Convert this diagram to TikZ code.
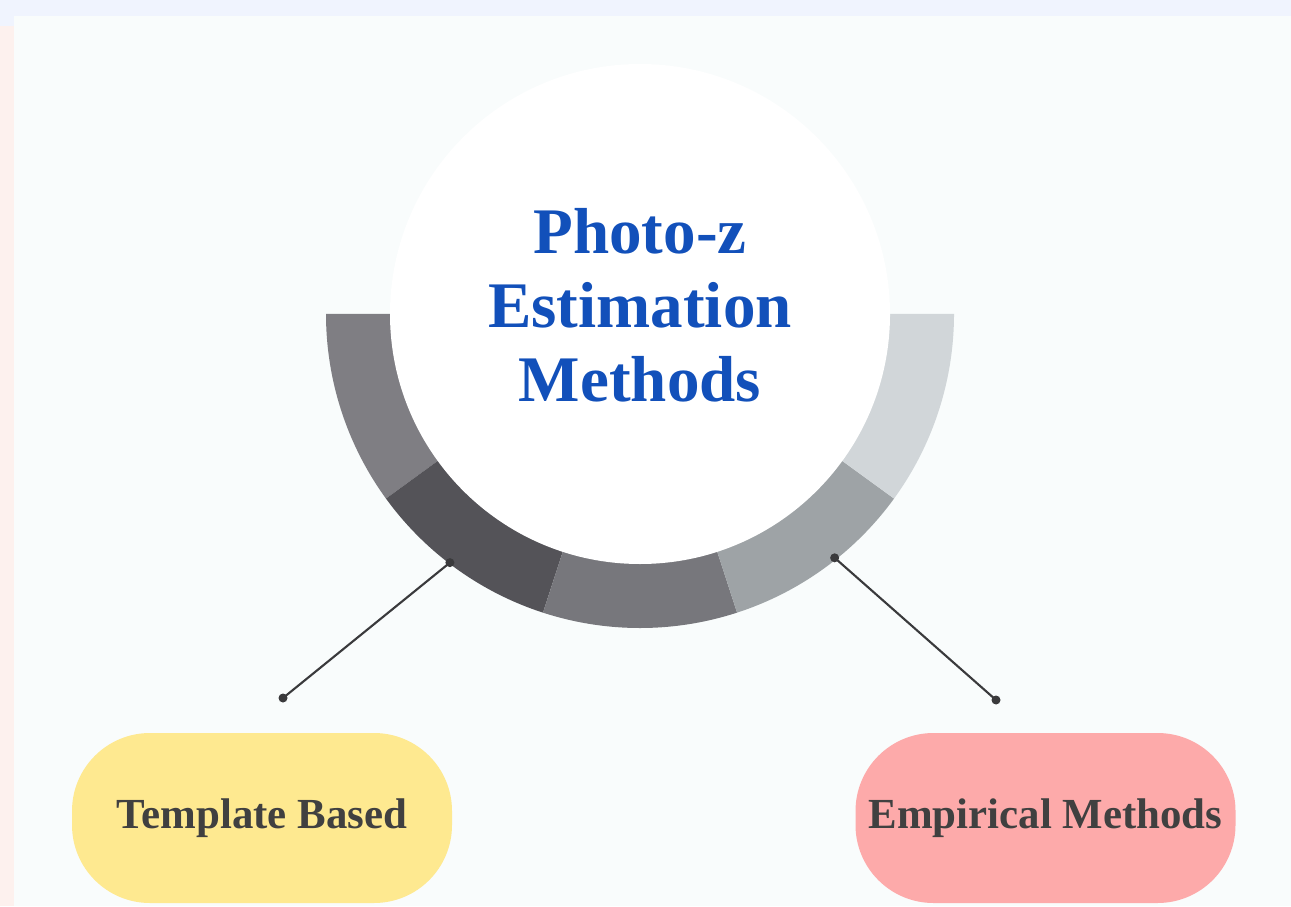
\documentclass[tikz,border=0pt]{standalone}
\usepackage{fontspec}
\setmainfont{Liberation Serif}
\usepackage{xcolor}
\usepackage{tikz}
\usetikzlibrary{calc, positioning}
\definecolor{clrTitle}{HTML}{1250BA}
\definecolor{clrText}{HTML}{404040}
\definecolor{clrLine}{HTML}{3A3A3C}
\definecolor{clrSegA}{HTML}{7F7E83}
\definecolor{clrSegB}{HTML}{545358}
\definecolor{clrSegC}{HTML}{77777C}
\definecolor{clrSegD}{HTML}{9EA3A6}
\definecolor{clrSegE}{HTML}{D1D6D9}
\definecolor{clrTemplate}{HTML}{FEE990}
\definecolor{clrEmpirical}{HTML}{FDAAAA}
\definecolor{clrPage}{HTML}{F9FCFC}
\definecolor{clrTop}{HTML}{F0F4FE}
\definecolor{clrSide}{HTML}{FDF1EE}

\begin{document}
\begin{tikzpicture}[
  hubnode/.style={
    circle, fill=white, minimum size=5.0cm, inner sep=0pt
  },
  titletext/.style={
    align=center, text=clrTitle, inner sep=0pt,
    font=\fontsize{18.5}{21}\selectfont\bfseries
  },
  pill/.style={
    rectangle, rounded corners=0.78cm,
    minimum width=3.80cm, minimum height=1.70cm,
    text=clrText, font=\fontsize{12.2}{14}\selectfont\bfseries
  },
  tbox/.style={pill, fill=clrTemplate},
  ebox/.style={pill, fill=clrEmpirical},
  link/.style={draw=clrLine, line width=0.6pt},
  dot/.style={fill=clrLine}
]

% page background
\fill[clrTop] (0,0) rectangle (12.91,9.06);
\fill[clrSide] (0,0) rectangle (0.14,8.80);
\fill[clrPage] (0.14,0) rectangle (12.91,8.90);
\useasboundingbox (0,0) rectangle (12.91,9.06);

\coordinate (ctr) at (6.40,5.92);

% ring segments
\fill[clrSegA] ($(ctr)+(180:3.14)$) arc[start angle=180, end angle=216, radius=3.14]
  -- ($(ctr)+(216:2.48)$) arc[start angle=216, end angle=180, radius=2.48] -- cycle;
\fill[clrSegB] ($(ctr)+(216:3.14)$) arc[start angle=216, end angle=252, radius=3.14]
  -- ($(ctr)+(252:2.48)$) arc[start angle=252, end angle=216, radius=2.48] -- cycle;
\fill[clrSegC] ($(ctr)+(252:3.14)$) arc[start angle=252, end angle=288, radius=3.14]
  -- ($(ctr)+(288:2.48)$) arc[start angle=288, end angle=252, radius=2.48] -- cycle;
\fill[clrSegD] ($(ctr)+(288:3.14)$) arc[start angle=288, end angle=324, radius=3.14]
  -- ($(ctr)+(324:2.48)$) arc[start angle=324, end angle=288, radius=2.48] -- cycle;
\fill[clrSegE] ($(ctr)+(324:3.14)$) arc[start angle=324, end angle=360, radius=3.14]
  -- ($(ctr)+(360:2.48)$) arc[start angle=360, end angle=324, radius=2.48] -- cycle;

\node[hubnode] (hub) at (ctr) {};
\node[titletext] (title) at ($(hub.center)+(0,0.09)$) {Photo-z\\Estimation\\Methods};

\node[tbox] (template)  at (2.62,0.88)  {Template Based};
\node[ebox] (empirical) at (10.455,0.88) {Empirical Methods};

% connectors
\coordinate (tmplRing) at ($(ctr)+(232.6:3.13)$);
\coordinate (tmplEnd)  at (2.83,2.08);
\coordinate (empRing)  at ($(ctr)+(308.6:3.12)$);
\coordinate (empEnd)   at (9.96,2.06);

\draw[link] (tmplRing) -- (tmplEnd);
\draw[link] (empRing) -- (empEnd);
\fill[dot] (tmplRing) circle (0.045);
\fill[dot] (tmplEnd) circle (0.045);
\fill[dot] (empRing) circle (0.045);
\fill[dot] (empEnd) circle (0.045);

\end{tikzpicture}
\end{document}
